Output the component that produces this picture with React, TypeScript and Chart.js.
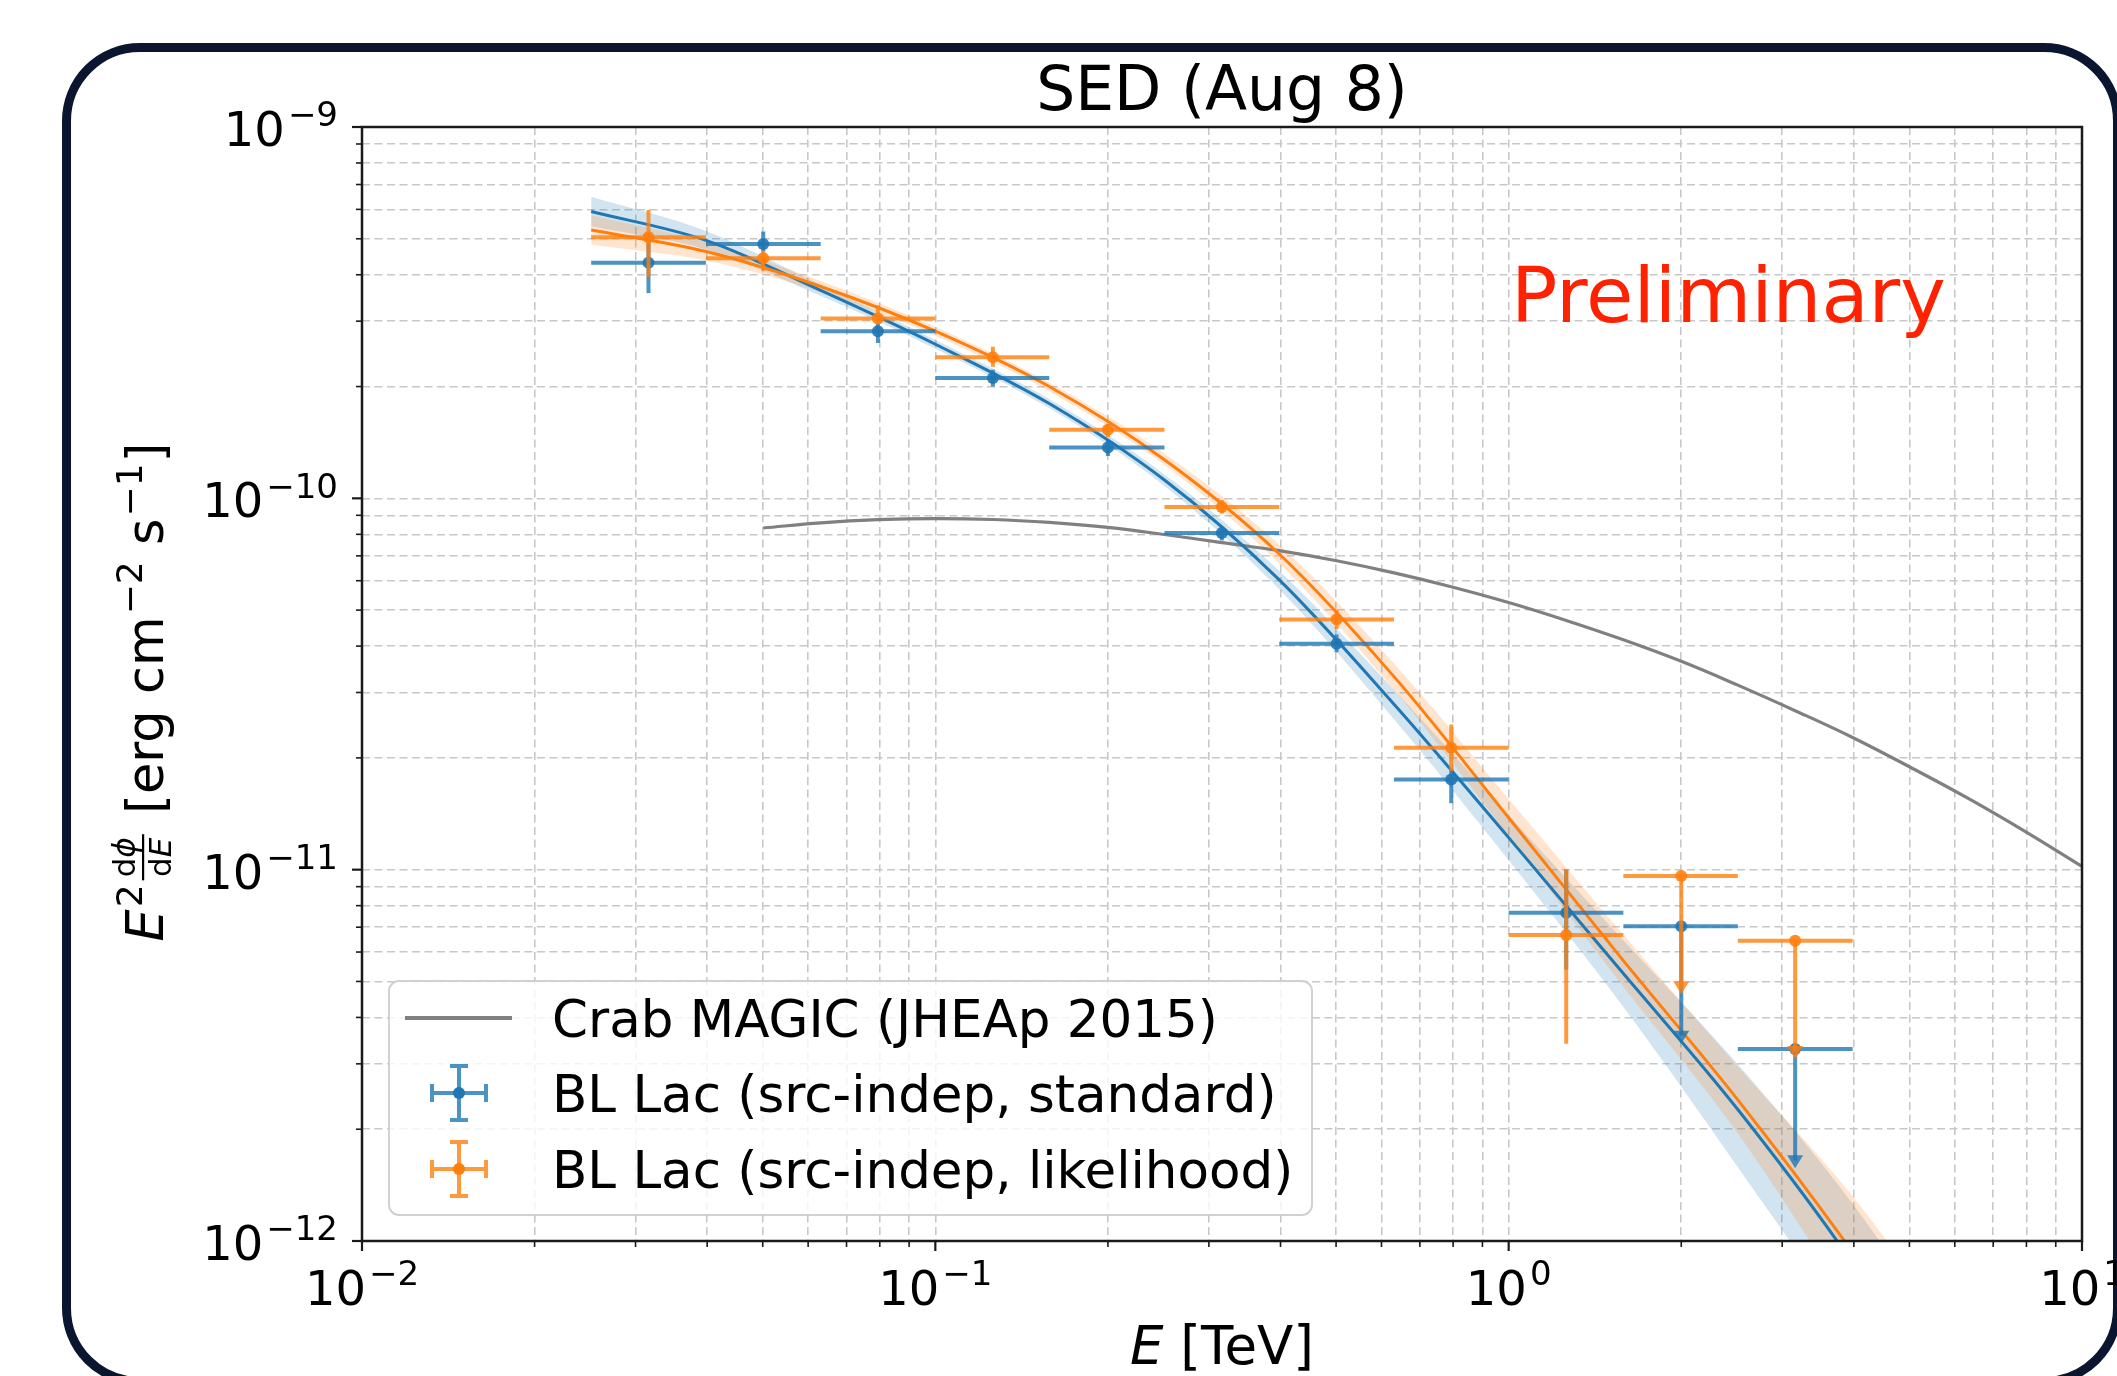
import React, { useEffect, useRef } from "react";
import { Chart, registerables } from "chart.js";

Chart.register(...registerables);

const W = 2117;
const H = 1376;

// ---------------- data ----------------
// energy bins [TeV]
const energy = [0.0316, 0.0501, 0.0794, 0.126, 0.2, 0.316, 0.501, 0.794, 1.26, 2.0, 3.16];
const energyLow = [0.0251, 0.0398, 0.0631, 0.1, 0.158, 0.251, 0.398, 0.631, 1.0, 1.585, 2.51];
const energyHigh = [0.0398, 0.0631, 0.1, 0.158, 0.251, 0.398, 0.631, 1.0, 1.585, 2.51, 3.98];

// BL Lac (src-indep, standard)
const stdFlux = [4.31e-10, 4.84e-10, 2.82e-10, 2.11e-10, 1.37e-10, 8.07e-11, 4.06e-11, 1.75e-11, 7.65e-12, 7.04e-12, 3.29e-12];
const stdFluxLow = [3.57e-10, 4.62e-10, 2.62e-10, 2.0e-10, 1.3e-10, 7.7e-11, 3.85e-11, 1.51e-11, 5.38e-12, 3.4e-12, 1.57e-12];
const stdFluxHigh = [4.87e-10, 5.23e-10, 2.96e-10, 2.22e-10, 1.44e-10, 8.37e-11, 4.3e-11, 1.87e-11, 1.0e-11, 7.04e-12, 3.29e-12];
const stdUpperLimit = [false, false, false, false, false, false, false, false, false, true, true];

// BL Lac (src-indep, likelihood)
const likFlux = [5.05e-10, 4.43e-10, 3.05e-10, 2.4e-10, 1.53e-10, 9.48e-11, 4.72e-11, 2.13e-11, 6.67e-12, 9.61e-12, 6.44e-12];
const likFluxLow = [3.95e-10, 4.1e-10, 2.96e-10, 2.26e-10, 1.46e-10, 9.1e-11, 4.45e-11, 1.84e-11, 3.4e-12, 4.62e-12, 3.09e-12];
const likFluxHigh = [5.98e-10, 4.65e-10, 3.31e-10, 2.56e-10, 1.59e-10, 9.9e-11, 5.0e-11, 2.46e-11, 1.0e-11, 9.61e-12, 6.44e-12];
const likUpperLimit = [false, false, false, false, false, false, false, false, false, true, true];

// fitted spectra with confidence bands
const fitEnergy = [0.0251, 0.0398, 0.0631, 0.1, 0.158, 0.251, 0.398, 0.631, 1.0, 1.585, 2.51, 3.98, 6.31];
const stdFit = [5.92e-10, 4.95e-10, 3.63e-10, 2.6e-10, 1.8e-10, 1.12e-10, 6.03e-11, 2.79e-11, 1.22e-11, 5.25e-12, 2.26e-12, 8.71e-13, 2.82e-13];
const stdFitUpper = [6.49e-10, 5.25e-10, 3.76e-10, 2.67e-10, 1.85e-10, 1.16e-10, 6.38e-11, 3.05e-11, 1.4e-11, 6.46e-12, 2.99e-12, 1.26e-12, 4.47e-13];
const stdFitLower = [5.4e-10, 4.68e-10, 3.51e-10, 2.53e-10, 1.75e-10, 1.08e-10, 5.69e-11, 2.54e-11, 1.06e-11, 4.27e-12, 1.58e-12, 5.5e-13, 1.41e-13];
const likFit = [5.28e-10, 4.62e-10, 3.72e-10, 2.82e-10, 2.0e-10, 1.27e-10, 7.08e-11, 3.31e-11, 1.38e-11, 5.69e-12, 2.4e-12, 9.33e-13, 3.31e-13];
const likFitUpper = [5.79e-10, 4.9e-10, 3.85e-10, 2.9e-10, 2.05e-10, 1.32e-10, 7.5e-11, 3.59e-11, 1.55e-11, 6.68e-12, 2.95e-12, 1.32e-12, 5.01e-13];
const likFitLower = [4.82e-10, 4.37e-10, 3.59e-10, 2.74e-10, 1.94e-10, 1.23e-10, 6.68e-11, 3.05e-11, 1.23e-11, 4.84e-12, 1.95e-12, 6.61e-13, 2.19e-13];

// Crab MAGIC (JHEAp 2015)
const crabEnergy = [0.0501, 0.0631, 0.0794, 0.1, 0.126, 0.158, 0.2, 0.251, 0.316, 0.398, 0.501, 0.631, 0.794, 1.0, 1.26, 1.585, 2.0, 2.51, 3.16, 3.98, 5.01, 6.31, 7.94, 10.0];
const crabFlux = [8.32e-11, 8.59e-11, 8.76e-11, 8.82e-11, 8.77e-11, 8.61e-11, 8.35e-11, 7.99e-11, 7.6e-11, 7.23e-11, 6.79e-11, 6.3e-11, 5.78e-11, 5.24e-11, 4.69e-11, 4.16e-11, 3.64e-11, 3.14e-11, 2.68e-11, 2.27e-11, 1.89e-11, 1.56e-11, 1.27e-11, 1.02e-11];

// axes
const xGridTicks = [
  0.01, 0.02, 0.03, 0.04, 0.05, 0.06, 0.07, 0.08, 0.09,
  0.1, 0.2, 0.3, 0.4, 0.5, 0.6, 0.7, 0.8, 0.9,
  1, 2, 3, 4, 5, 6, 7, 8, 9, 10,
];
const yGridTicks = [
  1e-12, 2e-12, 3e-12, 4e-12, 5e-12, 6e-12, 7e-12, 8e-12, 9e-12,
  1e-11, 2e-11, 3e-11, 4e-11, 5e-11, 6e-11, 7e-11, 8e-11, 9e-11,
  1e-10, 2e-10, 3e-10, 4e-10, 5e-10, 6e-10, 7e-10, 8e-10, 9e-10, 1e-9,
];
const xMajorTicks = [0.01, 0.1, 1, 10];
const xTickExponents = ["\u22122", "\u22121", "0", "1"];
const yMajorTicks = [1e-12, 1e-11, 1e-10, 1e-9];
const yTickExponents = ["\u221212", "\u221211", "\u221210", "\u22129"];

const legendLabels = [
  "Crab MAGIC (JHEAp 2015)",
  "BL Lac (src-indep, standard)",
  "BL Lac (src-indep, likelihood)",
];

// ---------------- styling ----------------
const BLUE = "#1f77b4";
const ORANGE = "#ff7f0e";
const BLUE_BAR = "rgba(31,119,180,0.8)";
const ORANGE_BAR = "rgba(255,127,14,0.8)";
const FONT = "'DejaVu Sans', 'Liberation Sans', sans-serif";
const TICK_FONT = 48;

const series: Record<string, any> = {
  std: { flux: stdFlux, low: stdFluxLow, high: stdFluxHigh, ul: stdUpperLimit, bar: BLUE_BAR },
  lik: { flux: likFlux, low: likFluxLow, high: likFluxHigh, ul: likUpperLimit, bar: ORANGE_BAR },
};

const isDecade = (v: number) => Math.abs(Math.log10(v) - Math.round(Math.log10(v))) < 1e-6;

function drawErrorBars(chart: any, s: any) {
  const { ctx, chartArea: ca } = chart;
  const xs = chart.scales.x;
  const ys = chart.scales.y;
  ctx.save();
  ctx.beginPath();
  ctx.rect(ca.left, ca.top, ca.right - ca.left, ca.bottom - ca.top);
  ctx.clip();
  ctx.strokeStyle = s.bar;
  ctx.fillStyle = s.bar;
  ctx.lineWidth = 4;
  for (let i = 0; i < energy.length; i++) {
    const px = xs.getPixelForValue(energy[i]);
    const py = ys.getPixelForValue(s.flux[i]);
    ctx.beginPath();
    ctx.moveTo(xs.getPixelForValue(energyLow[i]), py);
    ctx.lineTo(xs.getPixelForValue(energyHigh[i]), py);
    ctx.stroke();
    const pLow = ys.getPixelForValue(s.low[i]);
    if (s.ul[i]) {
      ctx.beginPath();
      ctx.moveTo(px, py);
      ctx.lineTo(px, pLow - 8);
      ctx.stroke();
      ctx.beginPath();
      ctx.moveTo(px - 8, pLow - 13);
      ctx.lineTo(px + 8, pLow - 13);
      ctx.lineTo(px, pLow);
      ctx.closePath();
      ctx.fill();
    } else {
      const pHigh = ys.getPixelForValue(s.high[i]);
      ctx.beginPath();
      ctx.moveTo(px, pHigh);
      ctx.lineTo(px, pLow);
      ctx.stroke();
    }
  }
  ctx.restore();
}

function drawPow10(ctx: any, exp: string, x: number, baseline: number, align: "right" | "center", size: number) {
  const main = `${size}px ${FONT}`;
  const sup = `${Math.round(size * 0.7)}px ${FONT}`;
  ctx.font = main;
  const wm = ctx.measureText("10").width;
  ctx.font = sup;
  const we = ctx.measureText(exp).width;
  const gap = 3;
  const total = wm + we + gap;
  const x0 = align === "right" ? x - total : x - total / 2;
  ctx.textAlign = "left";
  ctx.textBaseline = "alphabetic";
  ctx.font = main;
  ctx.fillText("10", x0, baseline);
  ctx.font = sup;
  ctx.fillText(exp, x0 + wm + gap, baseline - size * 0.41);
}

function drawYLabel(ctx: any) {
  const f = 51;
  const fs = 36;
  const ff = 31;
  const norm = `${f}px ${FONT}`;
  const ital = `italic ${f}px ${FONT}`;
  const small = `${fs}px ${FONT}`;
  const fracN = `${ff}px ${FONT}`;
  const fracI = `italic ${ff}px ${FONT}`;
  const raise = 21;
  ctx.save();
  ctx.translate(163, 692);
  ctx.rotate(-Math.PI / 2);
  ctx.fillStyle = "#000";
  ctx.textAlign = "left";
  ctx.textBaseline = "alphabetic";
  const m = (t: string, font: string) => {
    ctx.font = font;
    return ctx.measureText(t).width;
  };
  const numW = m("d", fracN) + m("\u03d5", fracI);
  const denW = m("d", fracN) + m("E", fracI);
  const fracW = Math.max(numW, denW) + 6;
  const parts: any[] = [
    { t: "E", font: ital, dy: 0, pad: 2 },
    { t: "2", font: small, dy: -raise, pad: 4 },
    { frac: true },
    { t: " [erg cm", font: norm, dy: 0, pad: 2 },
    { t: "\u22122", font: small, dy: -raise, pad: 0 },
    { t: " s", font: norm, dy: 0, pad: 2 },
    { t: "\u22121", font: small, dy: -raise, pad: 1 },
    { t: "]", font: norm, dy: 0, pad: 0 },
  ];
  let total = 0;
  for (const p of parts) {
    p.w = p.frac ? fracW + 4 : m(p.t, p.font) + p.pad;
    total += p.w;
  }
  let x = -total / 2;
  for (const p of parts) {
    if (p.frac) {
      const bar = -20;
      ctx.fillRect(x, bar - 1, fracW, 2.2);
      let nx = x + (fracW - numW) / 2;
      ctx.font = fracN;
      ctx.fillText("d", nx, bar - 8);
      nx += m("d", fracN);
      ctx.font = fracI;
      ctx.fillText("\u03d5", nx, bar - 8);
      let dx = x + (fracW - denW) / 2;
      ctx.font = fracN;
      ctx.fillText("d", dx, bar + 28);
      dx += m("d", fracN);
      ctx.font = fracI;
      ctx.fillText("E", dx, bar + 28);
    } else {
      ctx.font = p.font;
      ctx.fillText(p.t, x, p.dy);
    }
    x += p.w;
  }
  ctx.restore();
}

function drawLegend(ctx: any) {
  ctx.save();
  const bx = 389, by = 981, bw = 923, bh = 234;
  ctx.beginPath();
  ctx.roundRect(bx, by, bw, bh, 10);
  ctx.fillStyle = "rgba(255,255,255,0.8)";
  ctx.fill();
  ctx.strokeStyle = "rgba(204,204,204,0.9)";
  ctx.lineWidth = 2;
  ctx.stroke();

  const rows = [1018, 1093, 1169];
  // Crab line
  ctx.strokeStyle = "#808080";
  ctx.lineWidth = 4;
  ctx.beginPath();
  ctx.moveTo(405, rows[0]);
  ctx.lineTo(512, rows[0]);
  ctx.stroke();
  // error-bar handles
  const handle = (cy: number, bar: string, mk: string) => {
    const cx = 459;
    ctx.strokeStyle = bar;
    ctx.lineWidth = 4;
    ctx.beginPath();
    ctx.moveTo(cx - 27, cy);
    ctx.lineTo(cx + 27, cy);
    ctx.moveTo(cx, cy - 27);
    ctx.lineTo(cx, cy + 27);
    ctx.moveTo(cx - 27, cy - 9);
    ctx.lineTo(cx - 27, cy + 9);
    ctx.moveTo(cx + 27, cy - 9);
    ctx.lineTo(cx + 27, cy + 9);
    ctx.moveTo(cx - 9, cy - 27);
    ctx.lineTo(cx + 9, cy - 27);
    ctx.moveTo(cx - 9, cy + 27);
    ctx.lineTo(cx + 9, cy + 27);
    ctx.stroke();
    ctx.fillStyle = mk;
    ctx.beginPath();
    ctx.arc(cx, cy, 6, 0, Math.PI * 2);
    ctx.fill();
  };
  handle(rows[1], BLUE_BAR, BLUE);
  handle(rows[2], ORANGE_BAR, ORANGE);

  ctx.fillStyle = "#000";
  ctx.font = `51.5px ${FONT}`;
  ctx.textAlign = "left";
  ctx.textBaseline = "alphabetic";
  legendLabels.forEach((t, i) => ctx.fillText(t, 552, rows[i] + 19));
  ctx.restore();
}

const sedPlugin = {
  id: "sedDecor",
  beforeDatasetDraw(chart: any, args: any) {
    const ds = chart.data.datasets[args.index];
    if (ds && ds.seriesKey) drawErrorBars(chart, series[ds.seriesKey]);
  },
  afterDraw(chart: any) {
    const { ctx, chartArea: ca } = chart;
    const xs = chart.scales.x;
    const ys = chart.scales.y;

    drawLegend(ctx);

    ctx.save();
    // spines
    ctx.strokeStyle = "#1a1a1a";
    ctx.lineWidth = 2.5;
    ctx.strokeRect(ca.left, ca.top, ca.right - ca.left, ca.bottom - ca.top);
    // tick marks
    ctx.strokeStyle = "#1a1a1a";
    for (const v of xGridTicks) {
      const px = xs.getPixelForValue(v);
      const major = isDecade(v);
      ctx.lineWidth = major ? 2.2 : 1.6;
      ctx.beginPath();
      ctx.moveTo(px, ca.bottom);
      ctx.lineTo(px, ca.bottom + (major ? 10 : 6));
      ctx.stroke();
    }
    for (const v of yGridTicks) {
      const py = ys.getPixelForValue(v);
      const major = isDecade(v);
      ctx.lineWidth = major ? 2.2 : 1.6;
      ctx.beginPath();
      ctx.moveTo(ca.left, py);
      ctx.lineTo(ca.left - (major ? 10 : 6), py);
      ctx.stroke();
    }
    // tick labels
    ctx.fillStyle = "#000";
    xMajorTicks.forEach((v, i) => {
      drawPow10(ctx, xTickExponents[i], xs.getPixelForValue(v), 1305, "center", TICK_FONT);
    });
    yMajorTicks.forEach((v, i) => {
      drawPow10(ctx, yTickExponents[i], ca.left - 24, ys.getPixelForValue(v) + 19, "right", TICK_FONT);
    });

    // title
    ctx.font = `61.5px ${FONT}`;
    ctx.textAlign = "center";
    ctx.textBaseline = "alphabetic";
    ctx.fillText("SED (Aug 8)", (ca.left + ca.right) / 2, 110);

    // x label
    ctx.font = `italic 53px ${FONT}`;
    const wE = ctx.measureText("E").width;
    ctx.font = `53px ${FONT}`;
    const wR = ctx.measureText(" [TeV]").width;
    const x0 = (ca.left + ca.right) / 2 - (wE + wR) / 2;
    ctx.textAlign = "left";
    ctx.font = `italic 53px ${FONT}`;
    ctx.fillText("E", x0, 1364);
    ctx.font = `53px ${FONT}`;
    ctx.fillText(" [TeV]", x0 + wE, 1364);

    // y label
    drawYLabel(ctx);

    // Preliminary
    ctx.fillStyle = "#ff2200";
    ctx.font = `77px ${FONT}`;
    ctx.textAlign = "left";
    ctx.fillText("Preliminary", 1511, 322);
    ctx.restore();
  },
};

const pts = (xsArr: number[], ysArr: number[]) => xsArr.map((x, i) => ({ x, y: ysArr[i] }));

const gridOpts = {
  color: "#c8c8c8",
  lineWidth: 1.6,
  drawTicks: false,
  drawOnChartArea: true,
};

export default function App() {
  const ref = useRef<HTMLCanvasElement>(null);

  useEffect(() => {
    const canvas = ref.current;
    if (!canvas) return;
    const lineCommon = {
      type: "line",
      pointRadius: 0,
      pointHoverRadius: 0,
      cubicInterpolationMode: "monotone",
    };
    const chart = new Chart(canvas, {
      type: "scatter",
      data: {
        datasets: [
          {
            ...lineCommon,
            label: "std band",
            data: pts(fitEnergy, stdFitUpper),
            borderWidth: 0,
            borderColor: "rgba(0,0,0,0)",
            backgroundColor: "rgba(31,119,180,0.2)",
            fill: "+1",
            order: 30,
          },
          {
            ...lineCommon,
            label: "std band low",
            data: pts(fitEnergy, stdFitLower),
            borderWidth: 0,
            borderColor: "rgba(0,0,0,0)",
            fill: false,
            order: 30,
          },
          {
            ...lineCommon,
            label: "lik band",
            data: pts(fitEnergy, likFitUpper),
            borderWidth: 0,
            borderColor: "rgba(0,0,0,0)",
            backgroundColor: "rgba(255,127,14,0.2)",
            fill: "+1",
            order: 29,
          },
          {
            ...lineCommon,
            label: "lik band low",
            data: pts(fitEnergy, likFitLower),
            borderWidth: 0,
            borderColor: "rgba(0,0,0,0)",
            fill: false,
            order: 29,
          },
          {
            type: "line",
            pointRadius: 0,
            pointHoverRadius: 0,
            cubicInterpolationMode: "default",
            tension: 0.4,
            label: legendLabels[0],
            data: pts(crabEnergy, crabFlux),
            borderColor: "#808080",
            borderWidth: 3.2,
            fill: false,
            order: 20,
          },
          {
            ...lineCommon,
            label: "std fit",
            data: pts(fitEnergy, stdFit),
            borderColor: BLUE,
            borderWidth: 3,
            fill: false,
            order: 19,
          },
          {
            ...lineCommon,
            label: "lik fit",
            data: pts(fitEnergy, likFit),
            borderColor: ORANGE,
            borderWidth: 3,
            fill: false,
            order: 18,
          },
          {
            type: "scatter",
            label: legendLabels[1],
            seriesKey: "std",
            data: pts(energy, stdFlux),
            pointRadius: 6,
            pointHoverRadius: 6,
            pointBorderWidth: 0,
            backgroundColor: "rgba(31,119,180,0.9)",
            order: 10,
          },
          {
            type: "scatter",
            label: legendLabels[2],
            seriesKey: "lik",
            data: pts(energy, likFlux),
            pointRadius: 6,
            pointHoverRadius: 6,
            pointBorderWidth: 0,
            backgroundColor: "rgba(255,127,14,0.9)",
            order: 9,
          },
        ] as any,
      },
      options: {
        responsive: false,
        animation: false,
        devicePixelRatio: 1,
        events: [],
        layout: { padding: { left: 0, right: W - 2082, top: 127, bottom: 0 } },
        plugins: {
          legend: { display: false },
          tooltip: { enabled: false },
          title: { display: false },
        },
        scales: {
          x: {
            type: "logarithmic",
            position: "bottom",
            min: 0.01,
            max: 10,
            ticks: { display: false },
            grid: gridOpts,
            border: { display: false, dash: [8, 4.5] },
            afterBuildTicks: (s: any) => {
              s.ticks = xGridTicks.map((v) => ({ value: v, major: isDecade(v) }));
            },
            afterFit: (s: any) => {
              s.height = H - 1241;
            },
          },
          y: {
            type: "logarithmic",
            position: "left",
            min: 1e-12,
            max: 1e-9,
            ticks: { display: false },
            grid: gridOpts,
            border: { display: false, dash: [8, 4.5] },
            afterBuildTicks: (s: any) => {
              s.ticks = yGridTicks.map((v) => ({ value: v, major: isDecade(v) }));
            },
            afterFit: (s: any) => {
              s.width = 362;
            },
          },
        },
      } as any,
      plugins: [sedPlugin],
    } as any);
    return () => chart.destroy();
  }, []);

  return (
    <div
      style={{
        position: "fixed",
        left: 0,
        top: 0,
        width: W,
        height: H,
        overflow: "hidden",
        background: "#ffffff",
      }}
    >
      <div
        style={{
          position: "absolute",
          left: 62,
          top: 43,
          width: 2060,
          height: 1343,
          boxSizing: "border-box",
          border: "9px solid #0a1530",
          borderRadius: 78,
        }}
      />
      <canvas
        ref={ref}
        width={W}
        height={H}
        style={{ position: "absolute", left: 0, top: 0, width: W, height: H }}
      />
    </div>
  );
}
